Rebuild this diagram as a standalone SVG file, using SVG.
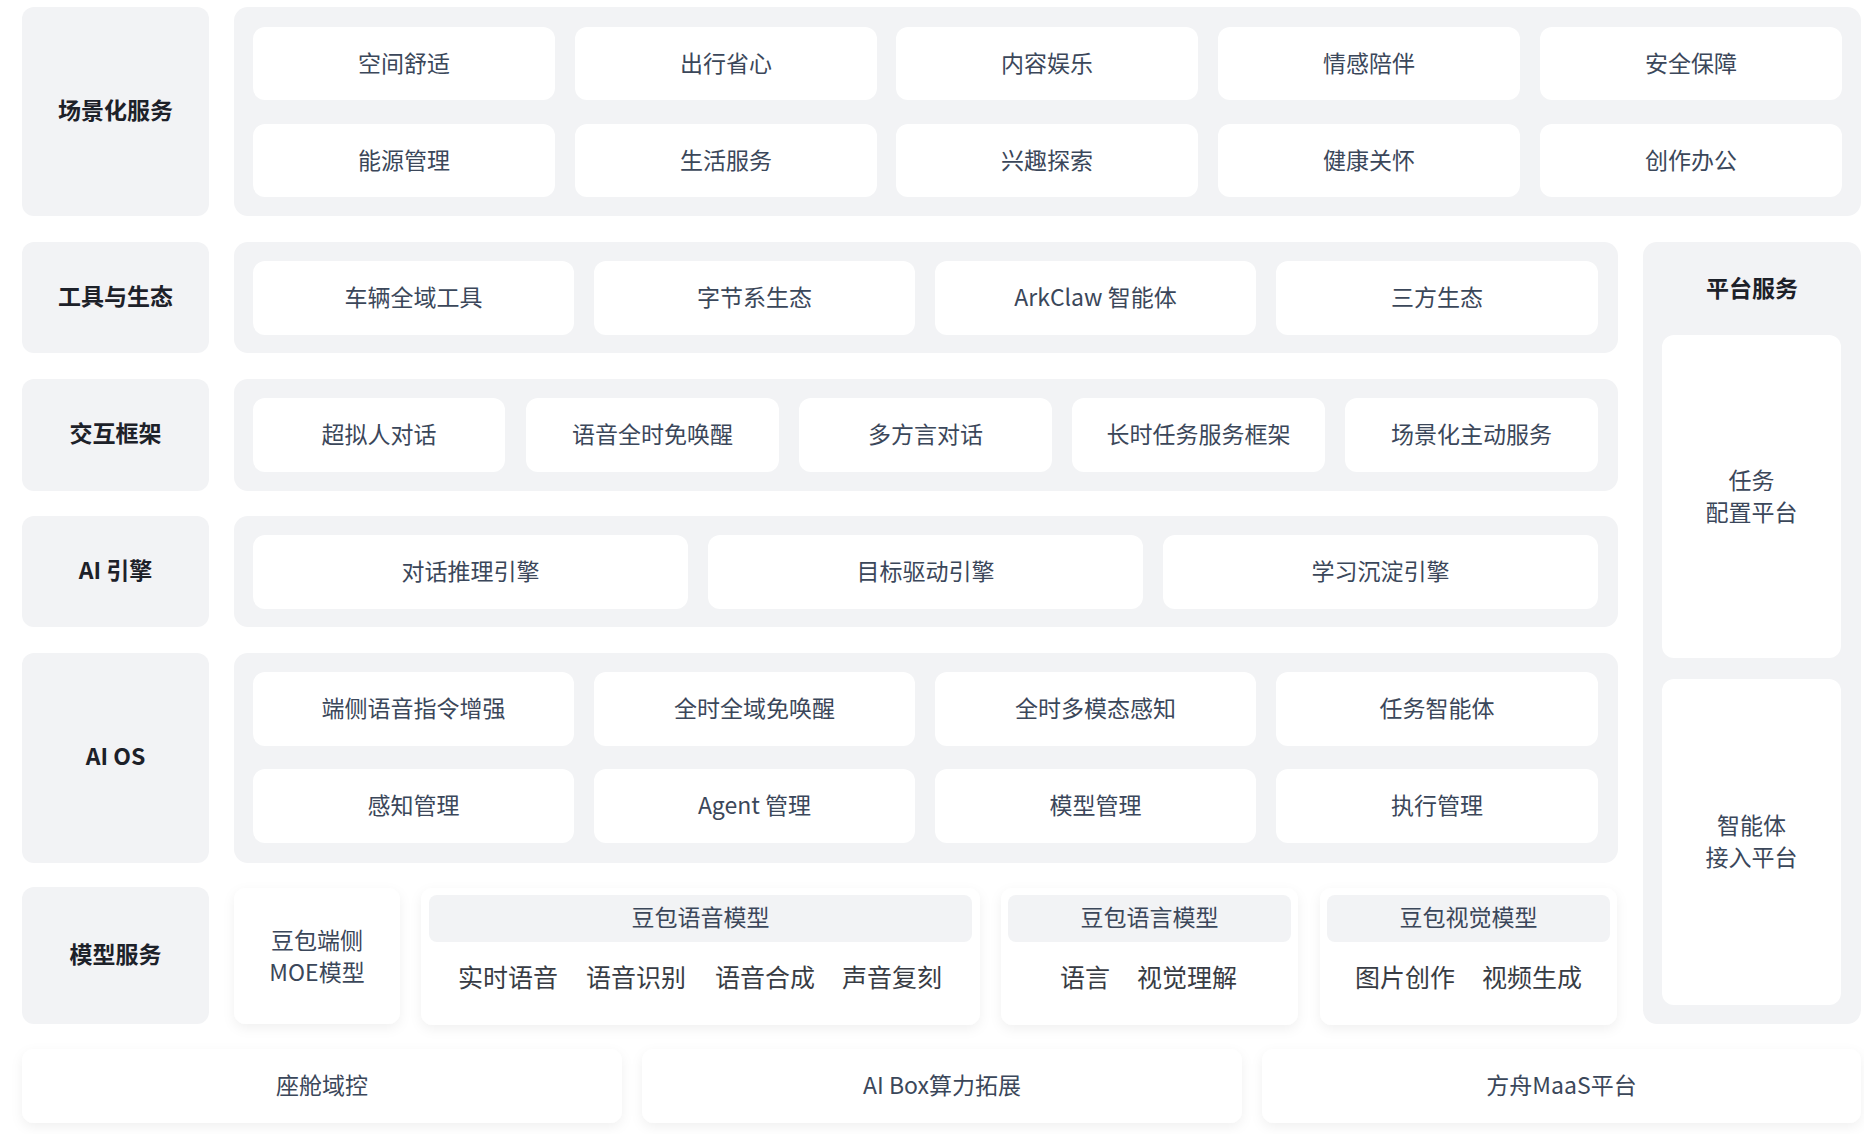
<svg xmlns="http://www.w3.org/2000/svg" width="1864" height="1134" viewBox="0 0 1864 1134">
<defs>
<style>
.bg{fill:#f2f3f5}
.cell{fill:#ffffff}
.card{fill:#ffffff;filter:url(#sh)}
.hdr{fill:#f2f3f5}
text{font-family:"Noto Sans CJK SC","Noto Sans",sans-serif;text-anchor:middle;dominant-baseline:central;transform:translateY(-2px)}
.lbl{font-size:23px;font-weight:700;fill:#1d2129}
.t{font-size:23px;fill:#3b475a}
.it{font-size:25px;fill:#383c44}
</style>
<filter id="sh" x="-10%" y="-20%" width="120%" height="150%">
<feDropShadow dx="0" dy="4" stdDeviation="6" flood-color="#000" flood-opacity="0.06"/>
</filter>
</defs>
<rect width="1864" height="1134" fill="#ffffff"/>

<g id="row-scene">
<rect class="bg" x="22" y="7" width="187" height="209" rx="12"/>
<text class="lbl" x="115.5" y="111">场景化服务</text>
<rect class="bg" x="234" y="7" width="1627" height="209" rx="14"/>
<rect class="cell" x="253" y="27" width="302" height="73" rx="12"/><text class="t" x="404" y="63.5">空间舒适</text>
<rect class="cell" x="575" y="27" width="302" height="73" rx="12"/><text class="t" x="726" y="63.5">出行省心</text>
<rect class="cell" x="896" y="27" width="302" height="73" rx="12"/><text class="t" x="1047" y="63.5">内容娱乐</text>
<rect class="cell" x="1218" y="27" width="302" height="73" rx="12"/><text class="t" x="1369" y="63.5">情感陪伴</text>
<rect class="cell" x="1540" y="27" width="302" height="73" rx="12"/><text class="t" x="1691" y="63.5">安全保障</text>
<rect class="cell" x="253" y="124" width="302" height="73" rx="12"/><text class="t" x="404" y="160.5">能源管理</text>
<rect class="cell" x="575" y="124" width="302" height="73" rx="12"/><text class="t" x="726" y="160.5">生活服务</text>
<rect class="cell" x="896" y="124" width="302" height="73" rx="12"/><text class="t" x="1047" y="160.5">兴趣探索</text>
<rect class="cell" x="1218" y="124" width="302" height="73" rx="12"/><text class="t" x="1369" y="160.5">健康关怀</text>
<rect class="cell" x="1540" y="124" width="302" height="73" rx="12"/><text class="t" x="1691" y="160.5">创作办公</text>
</g>

<g id="row-tools">
<rect class="bg" x="22" y="242" width="187" height="111" rx="12"/>
<text class="lbl" x="115.5" y="297">工具与生态</text>
<rect class="bg" x="234" y="242" width="1384" height="111" rx="14"/>
<rect class="cell" x="253" y="261" width="321" height="74" rx="12"/><text class="t" x="413.5" y="298">车辆全域工具</text>
<rect class="cell" x="594" y="261" width="321" height="74" rx="12"/><text class="t" x="754.5" y="298">字节系生态</text>
<rect class="cell" x="935" y="261" width="321" height="74" rx="12"/><text class="t" x="1095.5" y="298">ArkClaw 智能体</text>
<rect class="cell" x="1276" y="261" width="322" height="74" rx="12"/><text class="t" x="1437" y="298">三方生态</text>
</g>

<g id="row-interaction">
<rect class="bg" x="22" y="379" width="187" height="112" rx="12"/>
<text class="lbl" x="115.5" y="434">交互框架</text>
<rect class="bg" x="234" y="379" width="1384" height="112" rx="14"/>
<rect class="cell" x="253" y="398" width="252" height="74" rx="12"/><text class="t" x="379" y="435">超拟人对话</text>
<rect class="cell" x="526" y="398" width="253" height="74" rx="12"/><text class="t" x="652.5" y="435">语音全时免唤醒</text>
<rect class="cell" x="799" y="398" width="253" height="74" rx="12"/><text class="t" x="925.5" y="435">多方言对话</text>
<rect class="cell" x="1072" y="398" width="253" height="74" rx="12"/><text class="t" x="1198.5" y="435">长时任务服务框架</text>
<rect class="cell" x="1345" y="398" width="253" height="74" rx="12"/><text class="t" x="1471.5" y="435">场景化主动服务</text>
</g>

<g id="row-engine">
<rect class="bg" x="22" y="516" width="187" height="111" rx="12"/>
<text class="lbl" x="115.5" y="571">AI 引擎</text>
<rect class="bg" x="234" y="516" width="1384" height="111" rx="14"/>
<rect class="cell" x="253" y="535" width="435" height="74" rx="12"/><text class="t" x="470.5" y="572">对话推理引擎</text>
<rect class="cell" x="708" y="535" width="435" height="74" rx="12"/><text class="t" x="925.5" y="572">目标驱动引擎</text>
<rect class="cell" x="1163" y="535" width="435" height="74" rx="12"/><text class="t" x="1380.5" y="572">学习沉淀引擎</text>
</g>

<g id="row-aios">
<rect class="bg" x="22" y="653" width="187" height="210" rx="12"/>
<text class="lbl" x="115.5" y="757">AI OS</text>
<rect class="bg" x="234" y="653" width="1384" height="210" rx="14"/>
<rect class="cell" x="253" y="672" width="321" height="74" rx="12"/><text class="t" x="413.5" y="709">端侧语音指令增强</text>
<rect class="cell" x="594" y="672" width="321" height="74" rx="12"/><text class="t" x="754.5" y="709">全时全域免唤醒</text>
<rect class="cell" x="935" y="672" width="321" height="74" rx="12"/><text class="t" x="1095.5" y="709">全时多模态感知</text>
<rect class="cell" x="1276" y="672" width="322" height="74" rx="12"/><text class="t" x="1437" y="709">任务智能体</text>
<rect class="cell" x="253" y="769" width="321" height="74" rx="12"/><text class="t" x="413.5" y="806">感知管理</text>
<rect class="cell" x="594" y="769" width="321" height="74" rx="12"/><text class="t" x="754.5" y="806">Agent 管理</text>
<rect class="cell" x="935" y="769" width="321" height="74" rx="12"/><text class="t" x="1095.5" y="806">模型管理</text>
<rect class="cell" x="1276" y="769" width="322" height="74" rx="12"/><text class="t" x="1437" y="806">执行管理</text>
</g>

<g id="row-models">
<rect class="bg" x="22" y="887" width="187" height="137" rx="12"/>
<text class="lbl" x="115.5" y="955">模型服务</text>
<g id="model-moe">
<rect class="card" x="234" y="888" width="166" height="136" rx="12"/>
<text class="t" x="317" y="941">豆包端侧</text>
<text class="t" x="317" y="973">MOE模型</text>
</g>
<g id="model-speech">
<rect class="card" x="421" y="888" width="559" height="137" rx="12"/>
<rect class="hdr" x="429" y="895" width="543" height="47" rx="8"/>
<text class="t" x="700.5" y="918">豆包语音模型</text>
<text class="it" x="508" y="978">实时语音</text>
<text class="it" x="636" y="978">语音识别</text>
<text class="it" x="765" y="978">语音合成</text>
<text class="it" x="892" y="978">声音复刻</text>
</g>
<g id="model-language">
<rect class="card" x="1001" y="888" width="297" height="137" rx="12"/>
<rect class="hdr" x="1008" y="895" width="283" height="47" rx="8"/>
<text class="t" x="1149.5" y="918">豆包语言模型</text>
<text class="it" x="1085" y="978">语言</text>
<text class="it" x="1187" y="978">视觉理解</text>
</g>
<g id="model-vision">
<rect class="card" x="1320" y="888" width="297" height="137" rx="12"/>
<rect class="hdr" x="1327" y="895" width="283" height="47" rx="8"/>
<text class="t" x="1468.5" y="918">豆包视觉模型</text>
<text class="it" x="1405" y="978">图片创作</text>
<text class="it" x="1532" y="978">视频生成</text>
</g>
</g>

<g id="platform">
<rect class="bg" x="1643" y="242" width="218" height="782" rx="14"/>
<text class="lbl" x="1752" y="289">平台服务</text>
<g id="task-platform">
<rect class="cell" x="1662" y="335" width="179" height="323" rx="12"/>
<text class="t" x="1751.5" y="481">任务</text>
<text class="t" x="1751.5" y="513">配置平台</text>
</g>
<g id="agent-platform">
<rect class="cell" x="1662" y="679" width="179" height="326" rx="12"/>
<text class="t" x="1751.5" y="826">智能体</text>
<text class="t" x="1751.5" y="858">接入平台</text>
</g>
</g>

<g id="row-infra">
<g id="infra-cockpit"><rect class="card" x="22" y="1049" width="600" height="74" rx="12"/><text class="t" x="322" y="1086">座舱域控</text></g>
<g id="infra-aibox"><rect class="card" x="642" y="1049" width="600" height="74" rx="12"/><text class="t" x="942" y="1086">AI Box算力拓展</text></g>
<g id="infra-maas"><rect class="card" x="1262" y="1049" width="599" height="74" rx="12"/><text class="t" x="1561.5" y="1086">方舟MaaS平台</text></g>
</g>

<g id="connectors"></g>
</svg>
